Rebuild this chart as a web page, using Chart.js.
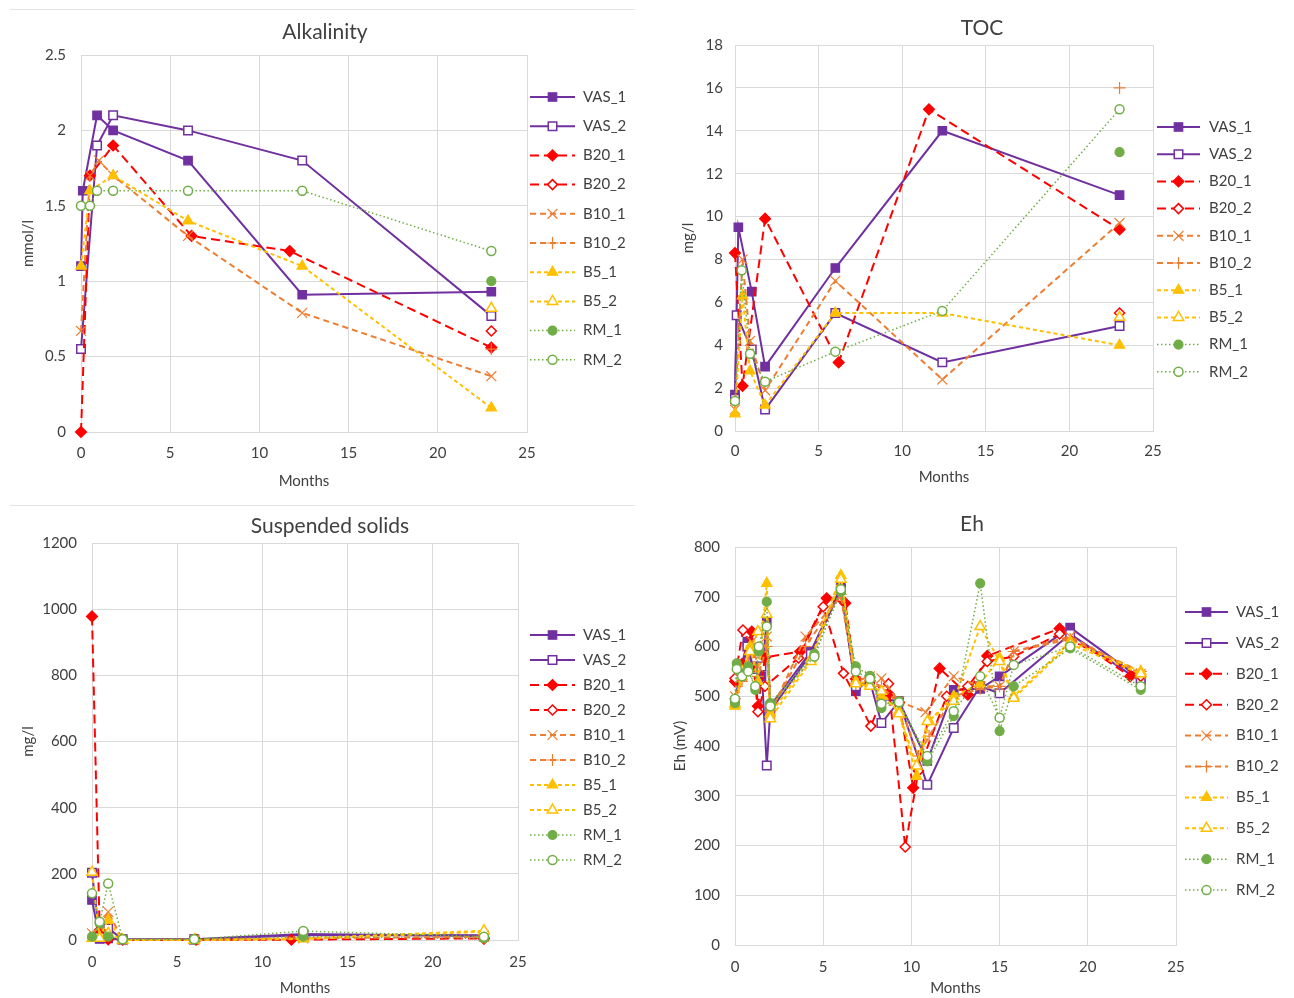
<!DOCTYPE html>
<html>
<head>
<meta charset="utf-8">
<title>Leachate monitoring</title>
<script src="https://cdn.jsdelivr.net/npm/chart.js@4.4.1/dist/chart.umd.min.js"></script>
<style>
  body { margin: 0; background: #fff; }
  #page { position: relative; width: 1294px; height: 998px; overflow: hidden; }
  canvas { position: absolute; }
  .edge { position: absolute; height: 0; border-top: 1px solid #e4e4e4; }
</style>
</head>
<body>
<div id="page">
  <div class="edge" style="left:10px;top:9px;width:625px"></div>
  <div class="edge" style="left:10px;top:505px;width:625px"></div>
  <canvas id="alkChart" width="630" height="488" style="left:10px;top:10px;width:630px;height:488px"></canvas>
  <canvas id="tocChart" width="624" height="488" style="left:670px;top:10px;width:624px;height:488px"></canvas>
  <canvas id="ssChart" width="630" height="493" style="left:15px;top:505px;width:630px;height:493px"></canvas>
  <canvas id="ehChart" width="644" height="493" style="left:650px;top:505px;width:644px;height:493px"></canvas>
</div>
<script>
// series order is the same in every panel
const seriesNames = ['VAS_1', 'VAS_2', 'B20_1', 'B20_2', 'B10_1', 'B10_2', 'B5_1', 'B5_2', 'RM_1', 'RM_2'];
const monthTicks = [0, 5, 10, 15, 20, 25];

// Alkalinity, mmol/l  -- [months, value]
const alkVAS1 = [[0, 1.1], [0.1, 1.6], [0.9, 2.1], [1.8, 2.0], [6, 1.8], [12.4, 0.91], [23, 0.93]];
const alkVAS2 = [[0, 0.55], [0.9, 1.9], [1.8, 2.1], [6, 2.0], [12.4, 1.8], [23, 0.77]];
const alkB20a = [[0, 0], [0.5, 1.7], [1.8, 1.9], [6.2, 1.3], [11.7, 1.2], [23, 0.56]];
const alkB20b = [[23, 0.67]];
const alkB10a = [[0, 0.67], [0.5, 1.7], [1.0, 1.8], [1.8, 1.7], [6, 1.3], [12.4, 0.79], [23, 0.37]];
const alkB10b = [[23, 0.55]];
const alkB5a = [[0, 1.1], [0.5, 1.6], [1.8, 1.7], [6, 1.4], [12.4, 1.1], [23, 0.16]];
const alkB5b = [[23, 0.82]];
const alkRM1 = [[23, 1.0]];
const alkRM2 = [[0, 1.5], [0.5, 1.5], [0.9, 1.6], [1.8, 1.6], [6, 1.6], [12.4, 1.6], [23, 1.2]];

// TOC, mg/l
const tocVAS1 = [[0, 1.7], [0.2, 9.5], [1.0, 6.5], [1.8, 3.0], [6, 7.6], [12.4, 14], [23, 11]];
const tocVAS2 = [[0, 1.5], [0.1, 5.4], [1.0, 3.8], [1.8, 1.0], [6, 5.5], [12.4, 3.2], [23, 4.9]];
const tocB20a = [[0, 8.3], [0.45, 2.1], [1.8, 9.9], [6.2, 3.2], [11.6, 15], [23, 9.4]];
const tocB20b = [[23, 5.5]];
const tocB10a = [[0, 1.0], [0.45, 8.0], [0.9, 4.2], [1.8, 1.9], [6, 7.0], [12.4, 2.4], [23, 9.7]];
const tocB10b = [[23, 16]];
const tocB5a = [[0, 0.8], [0.45, 6.3], [0.9, 2.8], [1.8, 1.2], [6, 5.5], [12.4, 5.5], [23, 4.0]];
const tocB5b = [[23, 5.3]];
const tocRM1 = [[23, 13]];
const tocRM2 = [[0, 1.4], [0.4, 7.5], [0.9, 3.6], [1.8, 2.3], [6, 3.7], [12.4, 5.6], [23, 15]];

// Suspended solids, mg/l
const ssVAS1 = [[0, 121], [0.45, 3], [0.95, 5], [1.8, 1], [6, 1], [12.4, 15], [23, 14]];
const ssVAS2 = [[0, 203], [0.45, 10], [0.95, 35], [1.8, 2], [6, 2], [12.4, 18], [23, 12]];
const ssB20a = [[0, 978], [0.45, 30], [0.95, 2], [1.8, 1], [6.1, 1], [11.7, 1], [23, 5]];
const ssB20b = [[23, 3]];
const ssB10a = [[0, 20], [0.45, 40], [0.95, 85], [1.8, 0], [6, 0], [12.4, 5], [23, 10]];
const ssB10b = [[23, 8]];
const ssB5a = [[0, 5], [0.45, 10], [0.95, 60], [1.8, 0], [6, 0], [12.4, 3], [23, 25]];
const ssB5b = [[0, 205], [0.45, 5], [0.95, 20], [1.8, 0], [6, 0], [12.4, 5], [23, 28]];
const ssRM1 = [[0, 10], [0.45, 50], [0.95, 10], [1.8, 2], [6, 2], [12.4, 10], [23, 5]];
const ssRM2 = [[0, 141], [0.45, 55], [0.95, 171], [1.8, 2], [6, 2], [12.4, 27], [23, 10]];

// Eh, mV
const ehVAS1 = [[0, 490], [0.3, 550], [0.7, 610], [1.0, 560], [1.5, 540], [1.8, 650], [2.0, 480], [4.3, 590], [6.0, 720], [6.85, 510], [7.65, 535], [8.3, 495], [9.3, 490], [10.9, 370], [12.4, 513], [13.9, 515], [15.0, 540], [19.0, 638], [23.0, 535]];
const ehVAS2 = [[0, 485], [0.3, 540], [0.7, 600], [1.0, 555], [1.5, 560], [1.8, 361], [2.0, 470], [4.3, 585], [6.0, 715], [6.85, 520], [7.65, 530], [8.3, 446], [9.3, 490], [10.9, 322], [12.4, 436], [13.9, 520], [15.0, 506], [19.0, 625], [23.0, 530]];
const ehB20a = [[0, 530], [0.4, 565], [0.95, 630], [1.3, 480], [1.7, 578], [3.7, 590], [5.2, 697], [6.25, 687], [6.85, 535], [7.65, 530], [8.7, 505], [9.3, 488], [10.1, 316], [11.6, 556], [13.2, 503], [14.3, 581], [18.4, 636], [22.4, 540]];
const ehB20b = [[0, 536], [0.45, 633], [0.95, 600], [1.3, 469], [1.7, 520], [3.6, 577], [5.0, 680], [6.15, 546], [7.7, 440], [8.7, 525], [9.65, 197], [10.4, 350], [12.0, 500], [13.2, 520], [14.3, 570], [15.8, 580], [18.4, 625], [23.0, 540]];
const ehB10a = [[0, 500], [0.4, 540], [0.95, 610], [1.3, 560], [1.8, 620], [2.0, 465], [4.0, 620], [6.0, 700], [6.85, 530], [7.65, 540], [8.3, 536], [9.3, 490], [10.8, 468], [12.4, 540], [13.9, 520], [15.0, 520], [15.8, 590], [19.0, 620], [23.0, 545]];
const ehB10b = [[0, 495], [0.4, 530], [0.95, 600], [1.3, 540], [1.8, 600], [2.0, 470], [4.0, 600], [6.0, 705], [6.85, 525], [7.65, 530], [8.3, 520], [9.3, 485], [10.4, 380], [11.0, 420], [12.4, 500], [13.9, 515], [15.0, 520], [15.8, 590], [19.0, 615], [23.0, 550]];
const ehB5a = [[0, 480], [0.4, 540], [0.85, 600], [1.3, 530], [1.8, 727], [2.0, 465], [4.3, 575], [6.0, 743], [6.85, 530], [7.65, 525], [8.3, 500], [9.3, 470], [10.3, 339], [11.0, 450], [12.4, 500], [13.9, 525], [15.0, 577], [15.8, 500], [19.0, 610], [23.0, 550]];
const ehB5b = [[0, 485], [0.4, 550], [0.85, 590], [1.3, 630], [1.8, 665], [2.0, 455], [4.3, 570], [6.0, 735], [6.85, 525], [7.65, 520], [8.3, 510], [9.3, 465], [10.3, 360], [10.9, 449], [12.4, 490], [13.9, 640], [15.0, 570], [15.8, 496], [19.0, 605], [23.0, 545]];
const ehRM1 = [[0, 486], [0.1, 566], [0.4, 546], [0.75, 560], [1.15, 513], [1.35, 590], [1.8, 690], [2.0, 486], [4.5, 585], [6.0, 710], [6.85, 560], [7.65, 541], [8.3, 476], [9.3, 490], [10.9, 369], [12.4, 460], [13.9, 727], [15.0, 430], [15.8, 520], [19.0, 596], [23.0, 513]];
const ehRM2 = [[0, 495], [0.1, 555], [0.4, 540], [0.75, 550], [1.15, 520], [1.35, 600], [1.8, 640], [2.0, 480], [4.5, 580], [6.0, 715], [6.85, 550], [7.65, 535], [8.3, 485], [9.3, 488], [10.9, 380], [12.4, 470], [13.9, 540], [15.0, 457], [15.8, 563], [19.0, 600], [23.0, 520]];

const FONT = 'Lato, "Open Sans", sans-serif';
const TEXT = '#404040';
const GRID = '#d9d9d9';

// line and marker look per series
const seriesStyles = [
  { color: '#7030A0', dash: [], width: 2, marker: 'rect', radius: 6, hollow: false },
  { color: '#7030A0', dash: [], width: 2, marker: 'rect', radius: 6, hollow: true },
  { color: '#FF0000', dash: [9, 5], width: 2, marker: 'rectRot', radius: 5.5, hollow: false },
  { color: '#FF0000', dash: [9, 5], width: 2, marker: 'rectRot', radius: 5, hollow: true },
  { color: '#ED7D31', dash: [6, 4], width: 2, marker: 'crossRot', radius: 7, hollow: false },
  { color: '#ED7D31', dash: [6, 4], width: 2, marker: 'cross', radius: 6, hollow: false },
  { color: '#FFC000', dash: [4, 3], width: 2, marker: 'triangle', radius: 6, hollow: false },
  { color: '#FFC000', dash: [4, 3], width: 2, marker: 'triangle', radius: 6, hollow: true },
  { color: '#70AD47', dash: [1.5, 2.5], width: 1.5, marker: 'circle', radius: 4.5, hollow: false },
  { color: '#70AD47', dash: [1.5, 2.5], width: 1.5, marker: 'circle', radius: 4.5, hollow: true }
];

function makeDatasets(series) {
  return series.map((pts, i) => {
    const s = seriesStyles[i];
    return {
      label: seriesNames[i],
      data: pts.map(p => ({ x: p[0], y: p[1] })),
      showLine: true,
      tension: 0,
      clip: false,
      order: series.length - i, // later series on top
      borderColor: s.color,
      borderWidth: s.width,
      borderDash: s.dash,
      pointStyle: s.marker,
      pointRadius: s.radius,
      pointBackgroundColor: s.hollow ? '#ffffff' : s.color,
      pointBorderColor: s.color,
      pointBorderWidth: s.hollow ? 1.5 : 1.2
    };
  });
}

// panel title + legend (line sample, marker, name) at fixed spots
const panelDecor = {
  id: 'panelDecor',
  afterDraw(chart, args, opts) {
    const ctx = chart.ctx;
    ctx.save();
    ctx.fillStyle = TEXT;
    ctx.font = '21px ' + FONT;
    ctx.textAlign = 'center';
    ctx.textBaseline = 'middle';
    ctx.fillText(opts.title.text, opts.title.x, opts.title.y);
    ctx.restore();

    const lg = opts.legend;
    chart.data.datasets.forEach((ds, i) => {
      const y = lg.top + i * lg.gap;
      ctx.save();
      ctx.strokeStyle = ds.borderColor;
      ctx.lineWidth = ds.borderWidth;
      ctx.setLineDash(ds.borderDash);
      ctx.beginPath();
      ctx.moveTo(lg.x, y);
      ctx.lineTo(lg.x + lg.len, y);
      ctx.stroke();
      ctx.setLineDash([]);
      ctx.fillStyle = ds.pointBackgroundColor;
      ctx.strokeStyle = ds.pointBorderColor;
      ctx.lineWidth = ds.pointBorderWidth;
      Chart.helpers.drawPoint(ctx, { pointStyle: ds.pointStyle, radius: ds.pointRadius, borderWidth: ds.pointBorderWidth }, lg.x + lg.len / 2, y);
      ctx.fillStyle = TEXT;
      ctx.font = '15px ' + FONT;
      ctx.textBaseline = 'middle';
      ctx.fillText(ds.label, lg.textX, y);
      ctx.restore();
    });
  }
};

function makeChart(id, title, yTitle, series, yMin, yMax, yStep, box) {
  const tickFont = { size: 15, family: FONT };
  return new Chart(document.getElementById(id), {
    type: 'scatter',
    data: { datasets: makeDatasets(series) },
    options: {
      responsive: false,
      animation: false,
      layout: { padding: { left: 0, top: box.padTop, right: box.padRight, bottom: 0 } },
      plugins: {
        legend: { display: false },
        tooltip: { enabled: false },
        title: { display: false },
        panelDecor: { title: { text: title, x: box.titleX, y: box.titleY }, legend: box.legend }
      },
      scales: {
        x: {
          type: 'linear', min: monthTicks[0], max: monthTicks[monthTicks.length - 1],
          afterBuildTicks: s => { s.ticks = monthTicks.map(v => ({ value: v })); },
          ticks: { padding: box.xTickPad, font: tickFont, color: TEXT, maxRotation: 0 },
          grid: { color: GRID, drawTicks: false },
          border: { color: GRID },
          title: { display: true, text: 'Months', color: TEXT, font: tickFont, padding: { top: 0, bottom: box.xTitlePad } },
          afterFit: s => { s.height = box.xHeight; }
        },
        y: {
          min: yMin, max: yMax,
          ticks: { stepSize: yStep, padding: box.yTickPad, font: tickFont, color: TEXT, callback: v => String(v) },
          grid: { color: GRID, drawTicks: false },
          border: { color: GRID },
          title: { display: true, text: yTitle, color: TEXT, font: tickFont, padding: { top: box.yTitlePad, bottom: 0 } },
          afterFit: s => { s.width = box.yWidth; }
        }
      }
    },
    plugins: [panelDecor]
  });
}

makeChart('alkChart', 'Alkalinity', 'mmol/l',
  [alkVAS1, alkVAS2, alkB20a, alkB20b, alkB10a, alkB10b, alkB5a, alkB5b, alkRM1, alkRM2],
  0, 2.5, 0.5,
  { padTop: 45, padRight: 113, yWidth: 71, xHeight: 66, titleX: 315, titleY: 22, yTitlePad: 9,
    yTickPad: 15, xTickPad: 12, xTitlePad: 8,
    legend: { x: 520, len: 45, textX: 573, top: 87, gap: 29.2 } });

makeChart('tocChart', 'TOC', 'mg/l',
  [tocVAS1, tocVAS2, tocB20a, tocB20b, tocB10a, tocB10b, tocB5a, tocB5b, tocRM1, tocRM2],
  0, 18, 2,
  { padTop: 35, padRight: 141, yWidth: 65, xHeight: 67, titleX: 312, titleY: 18, yTitlePad: 9,
    yTickPad: 12, xTickPad: 11, xTitlePad: 12,
    legend: { x: 487, len: 43, textX: 539, top: 117, gap: 27.2 } });

makeChart('ssChart', 'Suspended solids', 'mg/l',
  [ssVAS1, ssVAS2, ssB20a, ssB20b, ssB10a, ssB10b, ssB5a, ssB5b, ssRM1, ssRM2],
  0, 1200, 200,
  { padTop: 38, padRight: 127, yWidth: 77, xHeight: 58, titleX: 315, titleY: 21, yTitlePad: 4,
    yTickPad: 15, xTickPad: 13, xTitlePad: 1,
    legend: { x: 515, len: 45, textX: 568, top: 130, gap: 25 } });

makeChart('ehChart', 'Eh', 'Eh (mV)',
  [ehVAS1, ehVAS2, ehB20a, ehB20b, ehB10a, ehB10b, ehB5a, ehB5b, ehRM1, ehRM2],
  0, 800, 100,
  { padTop: 42, padRight: 118, yWidth: 85, xHeight: 53, titleX: 322, titleY: 19, yTitlePad: 21,
    yTickPad: 15, xTickPad: 13, xTitlePad: 1,
    legend: { x: 535, len: 43, textX: 586, top: 107, gap: 30.9 } });
</script>
</body>
</html>
